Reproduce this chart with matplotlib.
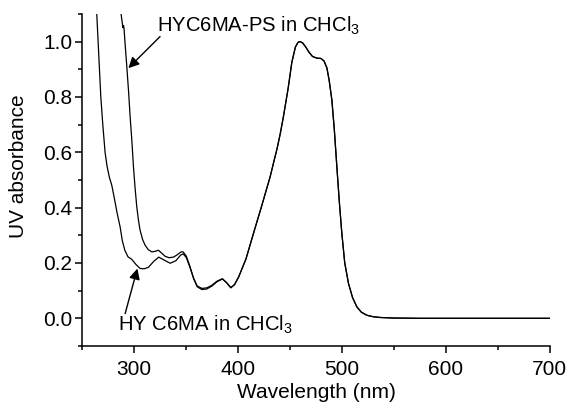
import numpy as np
import matplotlib
matplotlib.use("Agg")
import matplotlib.pyplot as plt
from matplotlib.ticker import MultipleLocator

plt.rcParams['font.family'] = ['Liberation Sans', 'DejaVu Sans']
plt.rcParams['mathtext.fontset'] = 'custom'
plt.rcParams['mathtext.rm'] = 'Liberation Sans'
plt.rcParams['mathtext.it'] = 'Liberation Sans:italic'

# HYC6MA in CHCl3 (lower curve at short wavelength)
wl_mono = [264.4, 265.7, 267.0, 268.3, 270.2, 272.4, 274.3, 276.5, 278.9, 281.5,
           284.0, 286.9, 289.0, 291.5, 294.5, 298.1, 302.0, 306.1, 310.0, 314.1,
           319.0, 324.0, 329.5, 335.0, 340.5, 345.0, 347.5, 350.5, 354.0, 357.5,
           361.0, 365.5, 370.3, 375.0, 380.0, 385.3, 389.5, 393.4]
abs_mono = [1.10, 1.00, 0.90, 0.80, 0.70, 0.60, 0.55, 0.51, 0.48, 0.43,
            0.38, 0.33, 0.28, 0.245, 0.222, 0.213, 0.195, 0.18, 0.179, 0.184,
            0.205, 0.221, 0.21, 0.199, 0.208, 0.228, 0.233, 0.22, 0.185, 0.145,
            0.117, 0.108, 0.110, 0.119, 0.134, 0.143, 0.128, 0.111]

# HYC6MA-PS in CHCl3
wl_poly = [287.8, 289.0, 289.6, 290.2, 290.7, 291.5, 293.3, 295.0, 296.5, 298.2,
           299.7, 301.3, 302.9, 304.5, 306.1, 308.5, 310.9, 314.0, 317.4, 320.5,
           323.7, 327.0, 330.2, 334.0, 338.2, 342.0, 345.5, 347.5, 350.5, 354.0,
           357.5, 361.0, 365.5, 370.3, 375.0, 380.0, 385.3, 389.5, 393.4]
abs_poly = [1.10, 1.065, 1.05, 1.058, 1.045, 1.00, 0.91, 0.82, 0.729, 0.64,
            0.548, 0.47, 0.403, 0.355, 0.318, 0.285, 0.264, 0.248, 0.240, 0.242,
            0.246, 0.235, 0.224, 0.219, 0.221, 0.23, 0.24, 0.240, 0.225, 0.188,
            0.145, 0.114, 0.104, 0.106, 0.116, 0.132, 0.142, 0.128, 0.110]

# common part of both spectra (visible band)
wl_band = [397.0, 401.0, 408.0, 415.2, 419.0, 423.0, 427.0, 431.2, 434.5, 438.0,
           441.0, 444.0, 448.5, 452.1, 455.5, 458.0, 460.0, 462.5, 465.5, 468.5,
           472.0, 476.2, 480.0, 483.0, 485.8, 488.0, 490.6, 493.0, 495.4, 497.8,
           500.2, 503.0, 506.6, 510.5, 514.7, 519.0, 524.3, 530.0, 537.0, 550.0,
           575.0, 600.0, 650.0, 700.0]
abs_band = [0.122, 0.15, 0.215, 0.307, 0.355, 0.405, 0.457, 0.511, 0.562, 0.615,
            0.668, 0.729, 0.83, 0.925, 0.98, 0.997, 1.0, 0.995, 0.98, 0.962,
            0.946, 0.940, 0.939, 0.93, 0.905, 0.86, 0.789, 0.68, 0.548, 0.42,
            0.307, 0.20, 0.126, 0.075, 0.041, 0.022, 0.011, 0.006, 0.003, 0.001,
            0.0, 0.0, 0.0, 0.0]

fig = plt.figure(figsize=(5.76, 4.08), dpi=100)
ax = fig.add_axes([0.142, 0.152, 0.812, 0.814])

ax.plot(wl_mono + wl_band, abs_mono + abs_band, color='black', lw=0.9)
ax.plot(wl_poly + wl_band, abs_poly + abs_band, color='black', lw=0.9)

ax.set_xlim(250, 700)
ax.set_ylim(-0.1, 1.1)
ax.xaxis.set_major_locator(MultipleLocator(100))
ax.xaxis.set_minor_locator(MultipleLocator(50))
ax.yaxis.set_major_locator(MultipleLocator(0.2))
ax.yaxis.set_minor_locator(MultipleLocator(0.1))
ax.yaxis.set_major_formatter(matplotlib.ticker.FormatStrFormatter('%.1f'))
ax.spines['top'].set_visible(False)
ax.spines['right'].set_visible(False)
for s in ['left', 'bottom']:
    ax.spines[s].set_linewidth(1.1)
ax.tick_params(which='major', direction='out', length=5, width=1.1, labelsize=15)
ax.tick_params(which='minor', direction='out', length=3, width=1.1)
ax.tick_params(axis='x', pad=5)
ax.tick_params(axis='y', pad=2)

ax.set_xlabel('Wavelength (nm)', fontsize=15)
ax.set_ylabel('UV absorbance', fontsize=15)
ax.xaxis.set_label_coords(0.501, -0.112)
ax.yaxis.set_label_coords(-0.115, 0.54)

ax.text(322.2, 1.036, 'HYC6MA-PS in CHCl$_3$', fontsize=14.6, ha='left', va='baseline')
ax.text(285.2, -0.043, 'HY C6MA in CHCl$_3$', fontsize=14.6, ha='left', va='baseline')
ax.annotate('', xy=(294.8, 0.904), xytext=(325.3, 1.018),
            arrowprops=dict(arrowstyle='-|>', color='black', lw=1.0,
                            mutation_scale=16, shrinkA=0, shrinkB=0))
ax.annotate('', xy=(303.5, 0.18), xytext=(291.7, 0.017),
            arrowprops=dict(arrowstyle='-|>', color='black', lw=1.0,
                            mutation_scale=16, shrinkA=0, shrinkB=0))

fig.savefig('out.png', dpi=100)
